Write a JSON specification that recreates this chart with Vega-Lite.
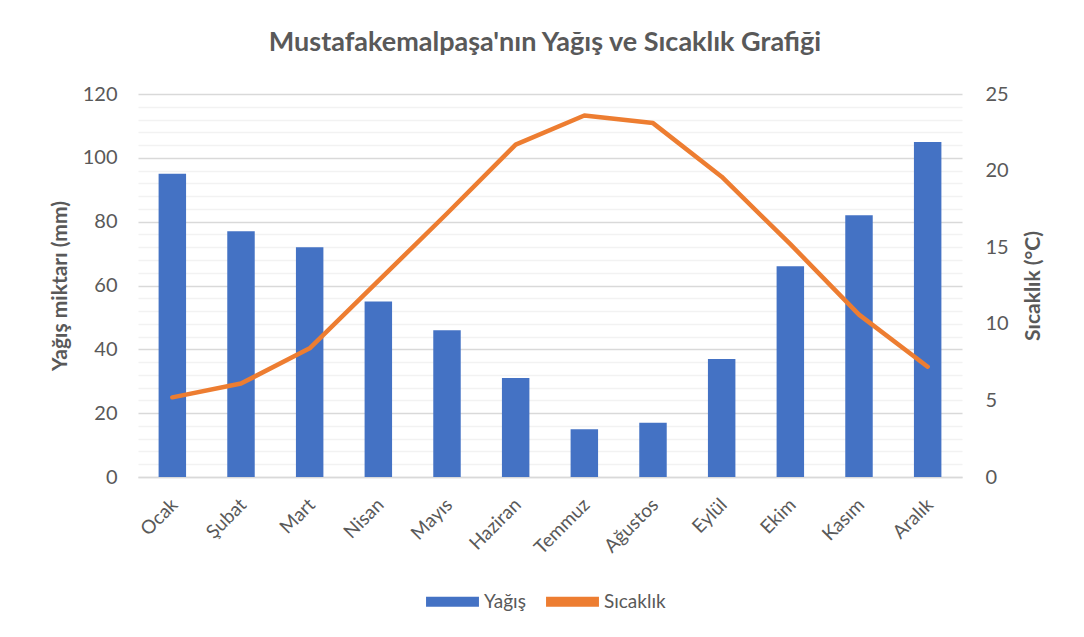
{
  "$schema": "https://vega.github.io/schema/vega-lite/v6.json",
  "width": 824,
  "height": 383,
  "autosize": {"type": "none"},
  "padding": {"left": 138, "top": 94, "right": 122, "bottom": 160},
  "background": "white",
  "config": {
    "font": "Lato",
    "view": {"stroke": null}
  },
  "title": {
    "text": "Mustafakemalpaşa'nın Yağış ve Sıcaklık Grafiği",
    "font": "Lato",
    "fontSize": 27,
    "fontWeight": "bold",
    "color": "#595959",
    "anchor": "middle",
    "dx": -5,
    "offset": 27
  },
  "data": {
    "values": [
      {"ay": "Ocak", "yagis": 95, "sicaklik": 5.2},
      {"ay": "Şubat", "yagis": 77, "sicaklik": 6.1},
      {"ay": "Mart", "yagis": 72, "sicaklik": 8.4},
      {"ay": "Nisan", "yagis": 55, "sicaklik": 12.8},
      {"ay": "Mayıs", "yagis": 46, "sicaklik": 17.2},
      {"ay": "Haziran", "yagis": 31, "sicaklik": 21.7},
      {"ay": "Temmuz", "yagis": 15, "sicaklik": 23.6},
      {"ay": "Ağustos", "yagis": 17, "sicaklik": 23.1},
      {"ay": "Eylül", "yagis": 37, "sicaklik": 19.6},
      {"ay": "Ekim", "yagis": 66, "sicaklik": 15.2},
      {"ay": "Kasım", "yagis": 82, "sicaklik": 10.6},
      {"ay": "Aralık", "yagis": 105, "sicaklik": 7.2}
    ]
  },
  "encoding": {
    "x": {
      "field": "ay",
      "type": "nominal",
      "sort": null,
      "scale": {"paddingInner": 0.6, "paddingOuter": 0.3},
      "axis": {
        "title": null,
        "labelAngle": -45,
        "labelFont": "Lato",
        "labelFontSize": 19,
        "labelColor": "#595959",
        "labelPadding": 18,
        "labelOffset": -4,
        "ticks": false,
        "domainColor": "#D9D9D9",
        "domainWidth": 1.3,
        "grid": false
      }
    }
  },
  "layer": [
    {
      "mark": {"type": "bar", "color": "#4472C4"},
      "encoding": {
        "y": {
          "field": "yagis",
          "type": "quantitative",
          "scale": {"domain": [0, 120], "nice": false, "zero": true},
          "axis": {
            "orient": "left",
            "values": [0, 4, 8, 12, 16, 20, 24, 28, 32, 36, 40, 44, 48, 52, 56, 60, 64, 68, 72, 76, 80, 84, 88, 92, 96, 100, 104, 108, 112, 116, 120],
            "labelExpr": "datum.value % 20 === 0 ? datum.label : ''",
            "grid": true,
            "gridColor": {"condition": {"test": "datum.value % 20 === 0", "value": "#D9D9D9"}, "value": "#F2F2F2"},
            "gridWidth": 1.3,
            "ticks": false,
            "domain": false,
            "labelFont": "Lato",
            "labelFontSize": 20,
            "labelColor": "#595959",
            "labelPadding": 21,
            "title": "Yağış miktarı (mm)",
            "titleFont": "Lato",
            "titleFontSize": 21,
            "titleFontWeight": "bold",
            "titleColor": "#595959",
            "titlePadding": 12
          }
        },
        "color": {
          "datum": "Yağış",
          "type": "nominal",
          "scale": {"domain": ["Yağış", "Sıcaklık"], "range": ["#4472C4", "#ED7D31"]},
          "legend": {
            "title": null,
            "orient": "none",
            "legendX": 288,
            "legendY": 481,
            "direction": "horizontal",
            "labelFont": "Lato",
            "labelFontSize": 19,
            "labelColor": "#595959",
            "labelOffset": 5,
            "columnPadding": 20,
            "symbolType": "M-1,-0.19H1V0.19H-1Z",
            "symbolSize": 2800,
            "symbolStrokeWidth": 0,
            "encode": {
              "symbols": {
                "update": {
                  "fill": {"scale": "color", "field": "value"},
                  "stroke": {"value": "transparent"},
                  "opacity": {"value": 1}
                }
              }
            }
          }
        }
      }
    },
    {
      "mark": {"type": "line", "color": "#ED7D31", "strokeWidth": 4.5, "strokeJoin": "round", "strokeCap": "round"},
      "encoding": {
        "y": {
          "field": "sicaklik",
          "type": "quantitative",
          "scale": {"domain": [0, 25], "nice": false, "zero": true},
          "axis": {
            "orient": "right",
            "values": [0, 5, 10, 15, 20, 25],
            "grid": false,
            "ticks": false,
            "domain": false,
            "labelFont": "Lato",
            "labelFontSize": 20,
            "labelColor": "#595959",
            "labelPadding": 23,
            "title": "Sıcaklık (°C)",
            "titleFont": "Lato",
            "titleFontSize": 21,
            "titleFontWeight": "bold",
            "titleColor": "#595959",
            "titleAngle": 270,
            "titleBaseline": "top",
            "titlePadding": 14
          }
        },
        "color": {"datum": "Sıcaklık", "type": "nominal"}
      }
    }
  ],
  "resolve": {"scale": {"y": "independent"}}
}
